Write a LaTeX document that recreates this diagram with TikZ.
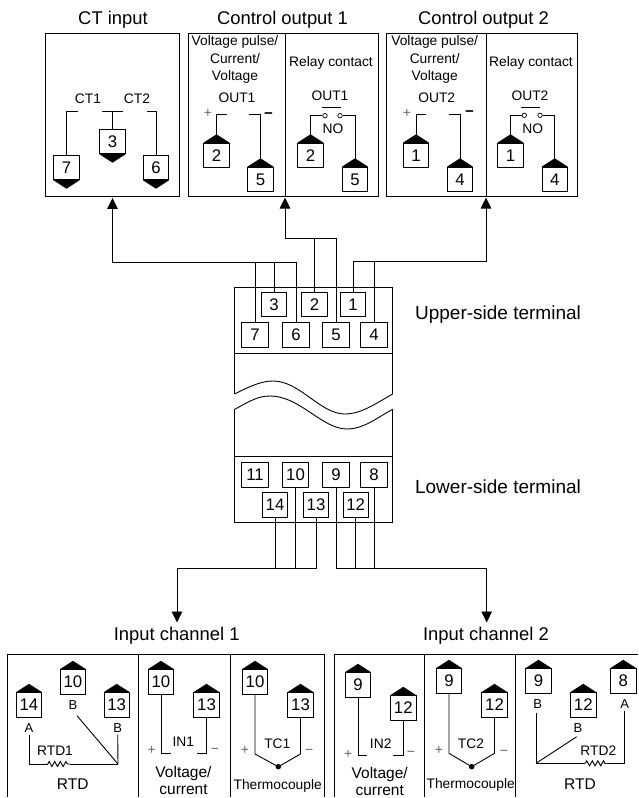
\documentclass[tikz,border=0pt]{standalone}
\usepackage{fontspec}
\setmainfont{Liberation Sans}
\usetikzlibrary{arrows.meta,decorations.pathmorphing}
\tikzstyle{panel} = 
[
	rectangle, 
	draw=black, 
	line width=0.9pt,
	inner sep=0pt
]
\tikzstyle{term} = 
[
	rectangle, 
	minimum width=25.5pt, 
	minimum height=24.5pt, 
	inner sep=0pt,
	text centered, 
	draw=black, 
	line width=0.9pt,
	font=\fontsize{16.8}{18}\selectfont
]
\tikzstyle{termup} = 
[
	term,
	append after command={\pgfextra{\fill (\tikzlastnode.north west) -- ([yshift=8.5pt]\tikzlastnode.north) -- (\tikzlastnode.north east) -- cycle;}}
]
\tikzstyle{termdown} = 
[
	term,
	append after command={\pgfextra{\fill (\tikzlastnode.south west) -- ([yshift=-8.5pt]\tikzlastnode.south) -- (\tikzlastnode.south east) -- cycle;}}
]
\tikzstyle{contact} = [circle, draw=black, line width=0.7pt, inner sep=0pt, minimum size=4.5pt]
\tikzstyle{junction} = [circle, fill=black, inner sep=0pt, minimum size=5.5pt]
\tikzstyle{heading} = [inner sep=0pt, font=\fontsize{18.4}{21}\selectfont]
\tikzstyle{side} = [inner sep=0pt, font=\fontsize{19}{21}\selectfont]
\tikzstyle{caption} = [inner sep=0pt, align=center, font=\fontsize{15.5}{17}\selectfont]
\tikzstyle{tag} = [inner sep=0pt, align=center, font=\fontsize{13.8}{17.5}\selectfont]
\tikzstyle{letter} = [inner sep=0pt, font=\fontsize{13}{14}\selectfont]
\tikzstyle{sign} = [inner sep=0pt, text=black!60, font=\fontsize{14}{16}\selectfont]
\tikzstyle{minus} = [inner sep=0pt, font=\fontsize{15}{16}\selectfont\bfseries]
\tikzstyle{wire} = [line width=0.9pt]
\tikzstyle{arrow} = [line width=0.9pt,-{Triangle[width=10.5pt,length=11pt]}]
\tikzstyle{resistor} = [line width=0.9pt,decorate,decoration={zigzag,amplitude=2.5pt,segment length=5.6pt}]

\begin{document}
\begin{tikzpicture}[x=1pt,y=-1pt]
	\useasboundingbox (0,0) rectangle (638,798);

	% upper panels
	\node (CtTitle) [heading] at (113,19.5) {CT input};
	\node (OutATitle) [heading] at (282.5,19.5) {Control output 1};
	\node (OutBTitle) [heading] at (483.5,19.5) {Control output 2};
	\node (CtBox) [panel, minimum width=134pt, minimum height=163pt] at (112.5,114.5) {};
	\node (OutABox) [panel, minimum width=190pt, minimum height=163pt] at (283,114.5) {};
	\node (OutBBox) [panel, minimum width=190.5pt, minimum height=163pt] at (482,114.5) {};
	\coordinate (OutASep) at (285,196);
	\coordinate (OutBSep) at (486,196);
	\draw [wire] (OutASep) -- (285,33);
	\draw [wire] (OutBSep) -- (486,33);

	% CT input
	\node (CtLabelA) [tag] at (88,99) {CT1};
	\node (CtLabelB) [tag] at (137,99) {CT2};
	\node (Ct7) [termdown] at (66.5,167.5) {7};
	\node (Ct3) [termdown] at (112.5,141.5) {3};
	\node (Ct6) [termdown] at (156,167.5) {6};
	\coordinate (CtEndA) at (78,111);
	\coordinate (CtEndB) at (147,111);
	\draw [wire] (Ct7.north) |- (CtEndA);
	\draw [wire] (Ct6.north) |- (CtEndB);
	\draw [wire] (Ct3.north) -- (112.5,111);
	\draw [wire] (102,111) -- (123,111);

	% control output 1
	\node (OutAText) [tag] at (235,59.5) {Voltage pulse/\\Current/\\Voltage};
	\node (OutALabel) [tag] at (237,98) {OUT1};
	\node (OutAPlus) [sign] at (208,113) {+};
	\node (OutAMinus) [minus] at (268.5,115.7) {−};
	\node (OutA2) [termup] at (216.5,155.5) {2};
	\node (OutA5) [termup] at (260.5,179.5) {5};
	\coordinate (OutAEndP) at (227,114.5);
	\coordinate (OutAEndM) at (249,114.5);
	\draw [wire] (OutA2.north) |- (OutAEndP);
	\draw [wire] (OutA5.north) |- (OutAEndM);

	\node (RelayAText) [tag] at (331,63) {Relay contact};
	\node (RelayALabel) [tag] at (330,96) {OUT1};
	\node (RelayANo) [tag] at (333,129) {NO};
	\node (RelayA2) [termup] at (310.5,155.5) {2};
	\node (RelayA5) [termup] at (355,179.5) {5};
	\node (ContactAL) [contact] at (325,115.7) {};
	\node (ContactAR) [contact] at (340,115.7) {};
	\draw [wire] (RelayA2.north) |- (ContactAL.west);
	\draw [wire] (RelayA5.north) |- (ContactAR.east);
	\draw [wire] (322,107) -- (341,107);

	% control output 2
	\node (OutBText) [tag] at (434.7,59.5) {Voltage pulse/\\Current/\\Voltage};
	\node (OutBLabel) [tag] at (436.7,98) {OUT2};
	\node (OutBPlus) [sign] at (407,113) {+};
	\node (OutBMinus) [minus] at (469.5,114) {−};
	\node (OutB1) [termup] at (416,155.5) {1};
	\node (OutB4) [termup] at (460,179.5) {4};
	\coordinate (OutBEndP) at (426,114.5);
	\coordinate (OutBEndM) at (449,114.5);
	\draw [wire] (OutB1.north) |- (OutBEndP);
	\draw [wire] (OutB4.north) |- (OutBEndM);

	\node (RelayBText) [tag] at (531,63) {Relay contact};
	\node (RelayBLabel) [tag] at (530,96) {OUT2};
	\node (RelayBNo) [tag] at (532.7,129) {NO};
	\node (RelayB1) [termup] at (510.5,155.5) {1};
	\node (RelayB4) [termup] at (554.7,179.5) {4};
	\node (ContactBL) [contact] at (524.3,115.3) {};
	\node (ContactBR) [contact] at (540,115.3) {};
	\draw [wire] (RelayB1.north) |- (ContactBL.west);
	\draw [wire] (RelayB4.north) |- (ContactBR.east);
	\draw [wire] (521.3,107) -- (540,107);

	% device body
	\draw [wire] (234.7,394) -- (234.7,287) -- (392.7,287) -- (392.7,394);
	\draw [wire] (234.7,353) -- (392.7,353);
	\draw [wire] (234.7,394) .. controls (250,386) and (262,381) .. (273,381) .. controls (300,381) and (320,414) .. (345,414) .. controls (362,414) and (378,402) .. (392.7,394);
	\draw [wire] (234.7,409.3) .. controls (250,401) and (258,396) .. (270,396) .. controls (300,396) and (322,429) .. (347,429) .. controls (364,429) and (378,417) .. (392.7,409.3);
	\draw [wire] (234.7,409.3) -- (234.7,522.7) -- (392.7,522.7) -- (392.7,409.3);
	\draw [wire] (234.7,456.7) -- (392.7,456.7);
	\node (UpperText) [side] at (498,315) {Upper-side terminal};
	\node (LowerText) [side] at (498,487) {Lower-side terminal};

	% upper-side terminals
	\node (Up3) [term] at (274,304.3) {3};
	\node (Up2) [term] at (314.5,304.3) {2};
	\node (Up1) [term] at (353,304.3) {1};
	\node (Up7) [term, minimum width=26.5pt] at (255,334.7) {7};
	\node (Up6) [term, minimum width=26.5pt] at (296,334.7) {6};
	\node (Up5) [term, minimum width=26.5pt] at (336,334.7) {5};
	\node (Up4) [term, minimum width=26.5pt] at (374,334.7) {4};

	\coordinate (CtBus) at (112.5,262.3);
	\coordinate (OutABus) at (285,238);
	\coordinate (OutBBus) at (486,261.3);
	\draw [wire] (Up7.north) -- (Up7.north |- CtBus);
	\draw [wire] (Up3.north) -- (Up3.north |- CtBus);
	\draw [arrow, shorten >=1.5pt] (Up6.north) |- (CtBus) -- (CtBox.south);
	\draw [wire] (Up2.north) -- (Up2.north |- OutABus);
	\draw [arrow, shorten >=1.5pt] (Up5.north) |- (OutABus) -- (OutASep);
	\draw [wire] (Up4.north) -- (Up4.north |- OutBBus);
	\draw [arrow, shorten >=1.5pt] (Up1.north) |- (OutBBus) -- (OutBSep);

	% lower-side terminals
	\node (Low11) [term, minimum width=26.5pt] at (255,475) {11};
	\node (Low10) [term, minimum width=26.5pt] at (295.5,475) {10};
	\node (Low9) [term, minimum width=26.5pt] at (336,475) {9};
	\node (Low8) [term, minimum width=26.5pt] at (374,475) {8};
	\node (Low14) [term] at (275,505) {14};
	\node (Low13) [term] at (316,505) {13};
	\node (Low12) [term] at (355.7,505) {12};

	\coordinate (InABus) at (177,568.3);
	\coordinate (InBBus) at (486.7,568.3);
	\coordinate (InATip) at (177,622.5);
	\coordinate (InBTip) at (486.7,622.5);
	\draw [wire] (Low14.south) -- (Low14.south |- InABus);
	\draw [wire] (Low10.south) -- (Low10.south |- InABus);
	\draw [arrow] (Low13.south) |- (InABus) -- (InATip);
	\draw [wire] (Low12.south) -- (Low12.south |- InBBus);
	\draw [wire] (Low8.south) -- (Low8.south |- InBBus);
	\draw [arrow] (Low9.south) |- (InBBus) -- (InBTip);

	% input panels
	\node (InATitle) [heading] at (176.7,635.7) {Input channel 1};
	\node (InBTitle) [heading] at (486,635.7) {Input channel 2};
	\draw [wire] (7.7,797) -- (7.7,654) -- (324.3,654) -- (324.3,797);
	\draw [wire] (138.7,654) -- (138.7,797);
	\draw [wire] (230.3,654) -- (230.3,797);
	\draw [wire] (334,797) -- (334,654) -- (638,654);
	\draw [wire] (424.7,654) -- (424.7,797);
	\draw [wire] (515.3,654) -- (515.3,797);

	% input channel 1, RTD
	\node (RtdA14) [termup] at (29,705) {14};
	\node (RtdA10) [termup] at (73,682) {10};
	\node (RtdA13) [termup] at (116.7,705) {13};
	\node (RtdALetterA) [letter] at (29,728) {A};
	\node (RtdALetterB) [letter] at (73,705) {B};
	\node (RtdALetterC) [letter] at (117.7,728) {B};
	\node (RtdALabel) [tag] at (55,751) {RTD1};
	\node (RtdAText) [caption] at (72.7,784.3) {RTD};
	\coordinate (RtdACorner) at (118,764);
	\coordinate (RtdARa) at (47.7,764);
	\coordinate (RtdARb) at (70,764);
	\draw [wire] (RtdALetterA.south) ++(0,2) |- (RtdARa);
	\draw [resistor] (RtdARa) -- (RtdARb);
	\draw [wire] (RtdARb) -- (RtdACorner);
	\draw [wire] (RtdACorner) -- ([yshift=-2pt]RtdALetterC.south);
	\draw [wire] (RtdACorner) -- (77,715.7);

	% input channel 1, voltage/current
	\node (InA10) [termup] at (161,682) {10};
	\node (InA13) [termup] at (206.5,705) {13};
	\node (InALabel) [tag] at (183.3,741.7) {IN1};
	\node (InAPlus) [sign] at (151.7,750.7) {+};
	\node (InAMinus) [sign] at (215,751) {−};
	\node (InAText) [caption] at (183.5,780.5) {Voltage/\\current};
	\coordinate (InAEndP) at (170.7,753.3);
	\coordinate (InAEndM) at (197.3,753.3);
	\draw [wire] (InA10.south) |- (InAEndP);
	\draw [wire] (InA13.south) |- (InAEndM);

	% input channel 1, thermocouple
	\node (TcA10) [termup] at (255,682) {10};
	\node (TcA13) [termup] at (300.5,705) {13};
	\node (TcALabel) [tag] at (277.3,743.3) {TC1};
	\node (TcAPlus) [sign] at (245,750.7) {+};
	\node (TcAMinus) [sign] at (309.3,752) {−};
	\node (TcAText) [tag] at (277.7,786.3) {Thermocouple};
	\node (TcADot) [junction] at (278.3,766.7) {};
	\draw [wire] (TcA10.south) -- (255,754) -- (TcADot.center) -- (300.5,754) -- (TcA13.south);

	% input channel 2, voltage/current
	\node (InB9) [termup] at (358,685) {9};
	\node (InB12) [termup] at (403.3,708) {12};
	\node (InBLabel) [tag] at (380.7,743.3) {IN2};
	\node (InBPlus) [sign] at (348.3,754) {+};
	\node (InBMinus) [sign] at (411,754.3) {−};
	\node (InBText) [caption] at (379.7,781.5) {Voltage/\\current};
	\coordinate (InBEndP) at (367.3,755.7);
	\coordinate (InBEndM) at (393.3,755.7);
	\draw [wire] (InB9.south) |- (InBEndP);
	\draw [wire] (InB12.south) |- (InBEndM);

	% input channel 2, thermocouple
	\node (TcB9) [termup] at (449,681) {9};
	\node (TcB12) [termup] at (494.5,705) {12};
	\node (TcBLabel) [tag] at (471,744) {TC2};
	\node (TcBPlus) [sign] at (439,750) {+};
	\node (TcBMinus) [sign] at (504,752.7) {−};
	\node (TcBText) [tag] at (470.7,785) {Thermocouple};
	\node (TcBDot) [junction] at (471.7,766.7) {};
	\draw [wire] (TcB9.south) -- (449,753.3) -- (TcBDot.center) -- (494.5,753.3) -- (TcB12.south);

	% input channel 2, RTD
	\node (RtdB9) [termup] at (538.5,681) {9};
	\node (RtdB12) [termup] at (583.3,705) {12};
	\node (RtdB8) [termup] at (623.3,681) {8};
	\node (RtdBLetterA) [letter] at (537.7,704.3) {B};
	\node (RtdBLetterB) [letter] at (578,728.3) {B};
	\node (RtdBLetterC) [letter] at (624.7,704.3) {A};
	\node (RtdBLabel) [tag] at (598.3,750.3) {RTD2};
	\node (RtdBText) [caption] at (580,784.3) {RTD};
	\coordinate (RtdBCorner) at (536,763.3);
	\coordinate (RtdBRa) at (585.3,763.3);
	\coordinate (RtdBRb) at (606.7,763.3);
	\draw [wire] (RtdBCorner) -- ([yshift=-4pt]RtdBLetterA.south -| RtdBCorner);
	\draw [wire] (RtdBCorner) -- (576.7,736.7);
	\draw [wire] (RtdBCorner) -- (RtdBRa);
	\draw [resistor] (RtdBRa) -- (RtdBRb);
	\draw [wire] (RtdBRb) -| ([yshift=-2pt]RtdBLetterC.south);
\end{tikzpicture}
\end{document}
